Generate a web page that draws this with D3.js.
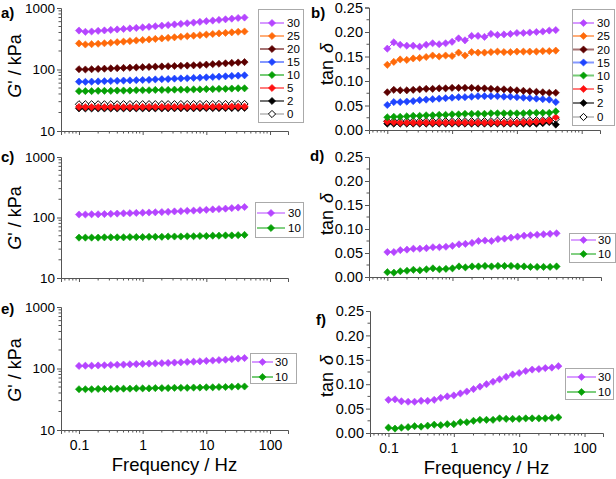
<!DOCTYPE html>
<html><head><meta charset="utf-8">
<script src="https://cdn.jsdelivr.net/npm/d3@7"></script>
<style>
body{margin:0;background:#fff}
svg{display:block}
text{font-family:Arial,"Liberation Sans",sans-serif;fill:#000}
</style>
</head><body>
<svg id="chart" width="616" height="479"></svg>
<script>
// ---------- data ----------
const freq = [0.1,0.126,0.158,0.2,0.251,0.316,0.398,0.501,0.631,0.794,1,1.26,1.58,2,2.51,3.16,3.98,5.01,6.31,7.94,10,12.6,15.8,20,25.1,31.6,39.8];
const xTickLabels = ["0.1","1","10","100"];
const gTickLabels = ["10","100","1000"];
const tanTickLabels = ["0.00","0.05","0.10","0.15","0.20","0.25"];
const seriesNames = ["30","25","20","15","10","5","2","0"];
const seriesColors = ["#b545ff","#ff6a0a","#5c0000","#1f44ff","#06a006","#ff1010","#000000","#ffffff"];

// panel a: G' (kPa)
const gA30 = [430,410,415,425,432,440,448,456,465,474,484,494,505,516,527,540,552,565,580,595,610,625,640,655,670,688,700];
const gA25 = [265,255,258,262,267,272,278,284,290,296,302,308,314,320,327,334,341,348,355,362,370,378,386,394,402,410,415];
const gA20 = [101,100,101,102,103,104,105,106,107,108,109,110,111,112,113,114,115,116,117,118,120,122,124,126,128,130,132];
const gA15 = [63.5,63,63.5,64,64.5,65,65.5,66,66.5,67,67.5,68,69,69.5,70,71,71.5,72,73,73.5,74.5,75.5,76.5,77.5,78.5,79.5,80.5];
const gA10 = [44.5,44.5,44.5,45,45,45,45.5,45.5,45.5,46,46,46,46.5,46.5,46.5,47,47,47,47.5,47.5,48,48,48.5,48.5,49,49.5,49.5];
const gA5  = [24.6,24.5,24.5,24.5,24.5,24.5,24.5,24.5,24.5,24.5,24.6,24.6,24.6,24.6,24.6,24.7,24.7,24.7,24.7,24.8,24.8,24.8,24.9,24.9,25,25,25];
const gA2  = [23.3,23.2,23.2,23.2,23.2,23.2,23.2,23.3,23.3,23.3,23.3,23.3,23.3,23.3,23.4,23.4,23.4,23.4,23.4,23.5,23.5,23.5,23.5,23.6,23.6,23.6,23.7];
const gA0  = [27.2,27.2,27.2,27.2,27.2,27.2,27.2,27.3,27.3,27.3,27.3,27.3,27.3,27.3,27.3,27.3,27.4,27.4,27.4,27.4,27.4,27.4,27.5,27.5,27.5,27.5,27.5];

// panel b: tan delta
const tB30 = [0.166,0.179,0.174,0.172,0.172,0.170,0.174,0.177,0.175,0.177,0.180,0.187,0.183,0.192,0.192,0.190,0.196,0.194,0.195,0.196,0.198,0.198,0.199,0.200,0.201,0.203,0.204];
const tB25 = [0.133,0.139,0.144,0.143,0.146,0.147,0.149,0.152,0.150,0.152,0.151,0.158,0.152,0.159,0.158,0.158,0.159,0.160,0.159,0.159,0.160,0.160,0.160,0.160,0.161,0.161,0.162];
const tB20 = [0.077,0.082,0.081,0.081,0.082,0.083,0.084,0.084,0.085,0.085,0.086,0.086,0.086,0.086,0.085,0.085,0.084,0.083,0.083,0.082,0.081,0.080,0.079,0.078,0.077,0.076,0.076];
const tB15 = [0.051,0.057,0.057,0.058,0.059,0.061,0.062,0.063,0.064,0.065,0.066,0.067,0.067,0.068,0.069,0.069,0.069,0.069,0.068,0.068,0.067,0.066,0.065,0.064,0.063,0.062,0.057];
const tB10 = [0.026,0.027,0.027,0.028,0.029,0.029,0.030,0.030,0.031,0.031,0.032,0.032,0.033,0.033,0.033,0.033,0.034,0.034,0.034,0.034,0.034,0.034,0.035,0.035,0.035,0.035,0.038];
const tB5  = [0.017,0.016,0.015,0.015,0.015,0.015,0.015,0.015,0.015,0.015,0.015,0.015,0.015,0.015,0.015,0.015,0.015,0.015,0.015,0.015,0.015,0.016,0.016,0.017,0.018,0.019,0.026];
const tB2  = [0.013,0.013,0.013,0.013,0.013,0.013,0.013,0.013,0.013,0.013,0.013,0.013,0.013,0.013,0.013,0.013,0.013,0.013,0.013,0.013,0.013,0.013,0.013,0.013,0.014,0.016,0.011];
const tB0  = [0.018,0.018,0.018,0.018,0.018,0.018,0.018,0.018,0.018,0.018,0.018,0.018,0.018,0.018,0.018,0.018,0.018,0.019,0.019,0.019,0.019,0.019,0.020,0.020,0.020,0.021,0.022];

// panel c: G'
const gC30 = [112,112,113,113,114,115,116,117,118,119,120,121,122,123,124,126,127,129,130,132,134,136,138,140,143,146,149];
const gC10 = [46.5,46.5,46.5,46.5,47,47,47,47,47.5,47.5,47.5,48,48,48,48.5,48.5,48.5,49,49,49.5,49.5,50,50,50.5,50.5,51,51.5];
// panel d: tan delta
const tD30 = [0.052,0.052,0.056,0.057,0.059,0.059,0.060,0.062,0.062,0.063,0.065,0.068,0.069,0.071,0.075,0.076,0.075,0.079,0.080,0.082,0.084,0.086,0.087,0.088,0.089,0.090,0.091];
const tD10 = [0.010,0.009,0.012,0.013,0.015,0.014,0.016,0.018,0.016,0.017,0.018,0.022,0.020,0.022,0.022,0.023,0.022,0.023,0.023,0.023,0.022,0.022,0.021,0.021,0.021,0.021,0.022];
// panel e: G'
const gE30 = [110,111,111,112,113,114,115,116,117,118,119,120,121,122,123,125,126,128,129,131,133,135,137,139,142,145,148];
const gE10 = [46,46,46,46.5,46.5,46.5,47,47,47,47.5,47.5,47.5,48,48,48,48.5,48.5,48.5,49,49,49.5,49.5,50,50,50.5,51,51];
// panel f: tan delta
const tF30 = [0.068,0.069,0.065,0.064,0.064,0.066,0.066,0.068,0.072,0.075,0.077,0.081,0.085,0.090,0.095,0.100,0.105,0.110,0.115,0.120,0.123,0.127,0.130,0.131,0.133,0.134,0.137];
const tF10 = [0.011,0.009,0.011,0.012,0.014,0.013,0.015,0.017,0.016,0.018,0.018,0.022,0.022,0.025,0.027,0.027,0.027,0.030,0.029,0.029,0.029,0.030,0.030,0.030,0.030,0.031,0.032];

// ---------- drawing ----------
const svg = d3.select("#chart");
const xDomain = [0.0522, 191.6];
const diamond = "M0,-3.6L3.6,0L0,3.6L-3.6,0Z";
const axisColor = "#555";

function seriesOf(names, arrays){
  return names.map((n,i)=>({name:n, color:seriesColors[seriesNames.indexOf(n)], values:arrays[i]}));
}

function panel(cfg){
  const g = svg.append("g");
  const x = d3.scaleLog().domain(xDomain).range([cfg.left, cfg.right]);
  let y;
  if (cfg.type === "log") y = d3.scaleLog().domain([10,1000]).range([cfg.bottom, cfg.top]);
  else y = d3.scaleLinear().domain([0,0.25]).range([cfg.bottom, cfg.top]);

  // x axis
  const xMajor = [0.1,1,10,100];
  const xMinor = [];
  [0.01,0.1,1,10,100].forEach(d=>{for(let k=2;k<=9;k++){const v=d*k; if(v>=xDomain[0]&&v<=xDomain[1]) xMinor.push(v);}});
  const xa = g.append("g").attr("transform",`translate(0,${cfg.bottom})`);
  xa.call(d3.axisBottom(x).tickValues(xMajor).tickSize(4).tickFormat((d,i)=>cfg.xlabels?xTickLabels[i]:""));
  xa.call(s=>s.select(".domain").attr("stroke",axisColor));
  xa.selectAll(".tick line").attr("stroke",axisColor);
  xa.selectAll(".tick text").attr("font-size",14).attr("dy","0.9em").attr("fill","#000").attr("font-family","Arial,Liberation Sans,sans-serif");
  xa.append("g").selectAll("line").data(xMinor).join("line")
    .attr("x1",d=>x(d)).attr("x2",d=>x(d)).attr("y1",0).attr("y2",2.5).attr("stroke",axisColor);

  // y axis
  const ya = g.append("g").attr("transform",`translate(${cfg.left},0)`);
  let yMajor, yMinor=[], yFmt;
  if (cfg.type==="log"){
    yMajor=[10,100,1000];
    [10,100].forEach(d=>{for(let k=2;k<=9;k++) yMinor.push(d*k);});
    yFmt=(d,i)=>gTickLabels[i];
  } else {
    yMajor=[0,0.05,0.10,0.15,0.20,0.25];
    yMinor=[0.025,0.075,0.125,0.175,0.225];
    yFmt=(d,i)=>tanTickLabels[i];
  }
  ya.call(d3.axisLeft(y).tickValues(yMajor).tickSize(4).tickFormat(yFmt));
  ya.call(s=>s.select(".domain").attr("stroke",axisColor));
  ya.selectAll(".tick line").attr("stroke",axisColor);
  ya.selectAll(".tick text").attr("font-size",cfg.type==="log"?13.5:14.5).attr("fill","#000").attr("x",-6).attr("font-family","Arial,Liberation Sans,sans-serif");
  ya.append("g").selectAll("line").data(yMinor).join("line")
    .attr("y1",d=>y(d)).attr("y2",d=>y(d)).attr("x1",0).attr("x2",-2.5).attr("stroke",axisColor);

  // series (drawn last-to-first so first series is on top)
  const line = d3.line().x((d,i)=>x(freq[i])).y(d=>y(d));
  const ser = cfg.series.slice().reverse();
  ser.forEach(s=>{
    const open = s.name==="0";
    g.append("path").datum(s.values).attr("d",line).attr("fill","none")
      .attr("stroke",open?"#888":s.color).attr("stroke-width",1);
    g.append("g").selectAll("path").data(s.values).join("path")
      .attr("d",diamond)
      .attr("transform",(d,i)=>`translate(${x(freq[i])},${y(d)})`)
      .attr("fill",s.color).attr("stroke",open?"#000":s.color).attr("stroke-width",open?1:0.6);
  });

  // legend
  const L = cfg.legend;
  g.append("rect").attr("x",L.x0+0.5).attr("y",L.y0+0.5).attr("width",L.x1-L.x0).attr("height",L.y1-L.y0)
    .attr("fill","#fff").attr("stroke","#aaa").attr("stroke-width",1);
  cfg.series.forEach((s,i)=>{
    const yy = L.ys[i];
    const open = s.name==="0";
    g.append("line").attr("x1",L.l0).attr("x2",L.l1).attr("y1",yy).attr("y2",yy)
      .attr("stroke",open?"#999":s.color).attr("stroke-width",L.lw).attr("stroke-opacity",L.lo);
    g.append("path").attr("d",diamond).attr("transform",`translate(${(L.l0+L.l1)/2},${yy})`)
      .attr("fill",s.color).attr("stroke",open?"#000":s.color).attr("stroke-width",open?1:0.6);
    g.append("text").attr("x",L.tx).attr("y",yy).attr("dy","0.36em").attr("font-size",11.5).text(s.name);
  });

  // y title
  const yt = g.append("text").attr("transform",`translate(${cfg.ytx},${cfg.yty}) rotate(-90)`)
    .attr("text-anchor","middle").attr("font-size",18);
  if (cfg.type==="log"){
    yt.append("tspan").attr("font-style","italic").text("G");
    yt.append("tspan").text("' / kPa");
  } else {
    yt.append("tspan").text("tan ");
    yt.append("tspan").attr("font-style","italic").attr("dx",2).text("δ");
  }
  // x title
  if (cfg.xlabels){
    g.append("text").attr("x",(x(0.1)+x(100))/2).attr("y",cfg.bottom+41).attr("text-anchor","middle")
      .attr("font-size",18.5).text("Frequency / Hz");
  }
  // panel label
  g.append("text").attr("x",cfg.lx).attr("y",cfg.ly).attr("font-size",15).attr("font-weight","bold").text(cfg.label);
}

const allA = seriesOf(seriesNames,[gA30,gA25,gA20,gA15,gA10,gA5,gA2,gA0]);
const allB = seriesOf(seriesNames,[tB30,tB25,tB20,tB15,tB10,tB5,tB2,tB0]);

panel({label:"a)",lx:1,ly:18,type:"log",left:61,right:288,top:8,bottom:131,xlabels:false,ytx:21,yty:66,
  series:allA,
  legend:{x0:258,x1:303,y0:9,y1:122,ys:[23,36,49,62,75,88,101,114],l0:260,l1:284,tx:287,lw:2,lo:0.55}});
panel({label:"b)",lx:311,ly:18,type:"lin",left:369,right:600,top:7.5,bottom:130,xlabels:false,ytx:333,yty:64,
  series:allB,
  legend:{x0:572,x1:614,y0:9,y1:125,ys:[23,36,49.5,62.5,75.5,89,103,117],l0:573,l1:594,tx:597,lw:2,lo:0.55}});
panel({label:"c)",lx:1,ly:162,type:"log",left:61,right:288,top:157,bottom:278,xlabels:false,ytx:21,yty:218,
  series:seriesOf(["30","10"],[gC30,gC10]),
  legend:{x0:255,x1:303,y0:202,y1:237,ys:[213,228],l0:257,l1:285,tx:288,lw:1,lo:1}});
panel({label:"d)",lx:310,ly:161,type:"lin",left:369,right:601,top:157,bottom:277,xlabels:false,ytx:333,yty:214,
  series:seriesOf(["30","10"],[tD30,tD10]),
  legend:{x0:569,x1:615,y0:233,y1:262,ys:[240,254],l0:571,l1:596,tx:598,lw:1,lo:1}});
panel({label:"e)",lx:1,ly:314,type:"log",left:61,right:288,top:307,bottom:430,xlabels:true,ytx:21,yty:370,
  series:seriesOf(["30","10"],[gE30,gE10]),
  legend:{x0:250,x1:296,y0:353,y1:383,ys:[362,377],l0:252,l1:273,tx:275,lw:2,lo:0.55}});
panel({label:"f)",lx:316,ly:325,type:"lin",left:370,right:603,top:311,bottom:433,xlabels:true,ytx:333,yty:376,
  series:seriesOf(["30","10"],[tF30,tF10]),
  legend:{x0:565,x1:613,y0:368,y1:399,ys:[377,392],l0:567,l1:596,tx:598,lw:1.5,lo:0.7}});
</script>
</body></html>
